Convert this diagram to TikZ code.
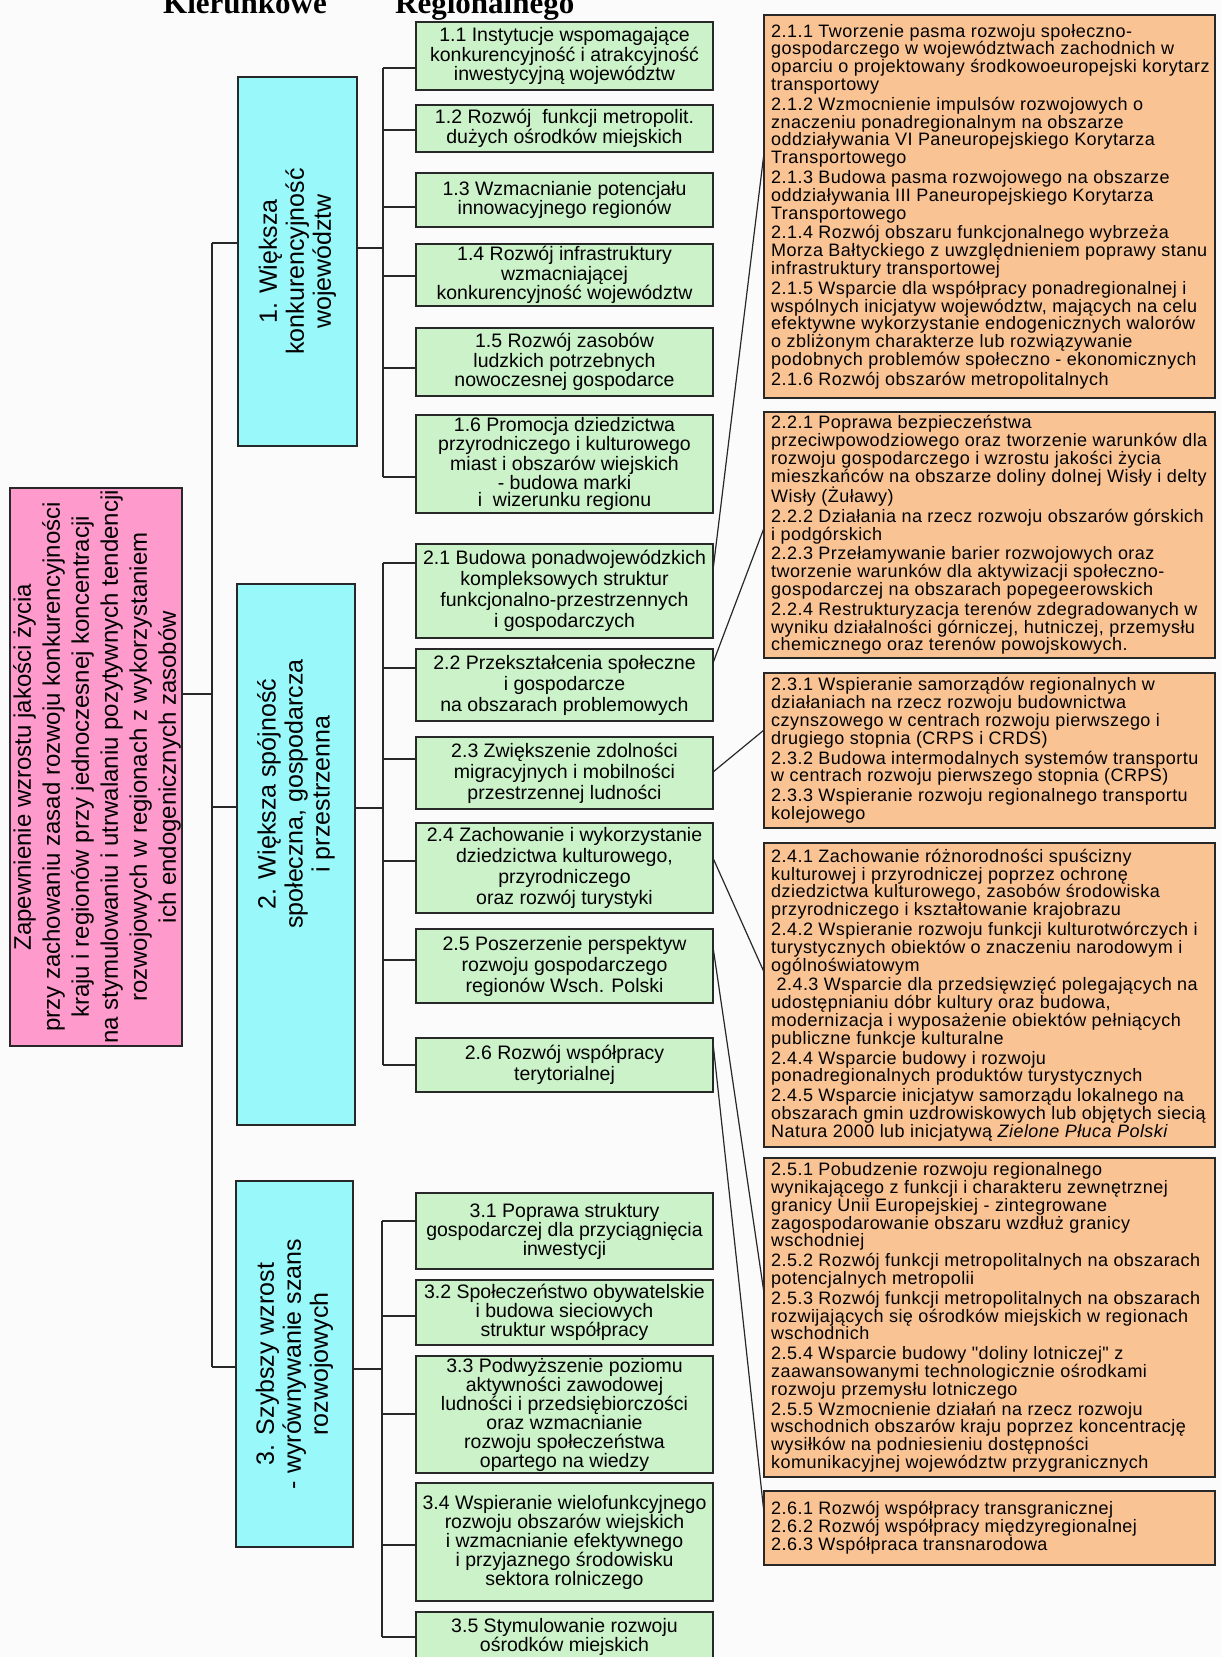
\documentclass[tikz,border=0pt]{standalone}
\usepackage{fontspec}
\setmainfont{Liberation Sans}
\newfontfamily\hdrfont{Liberation Serif}
\newfontfamily\ofam[LetterSpace=2.5]{Liberation Sans}
\definecolor{gfill}{RGB}{204,242,202}
\definecolor{bfill}{RGB}{152,248,250}
\definecolor{pfill}{RGB}{255,154,204}
\definecolor{ofill}{RGB}{250,195,148}
\definecolor{bord}{RGB}{40,40,40}
\definecolor{bg}{RGB}{251,251,251}
\newcommand\gfA{\fontsize{19.5}{17.5}\selectfont}
\newcommand\gfB{\fontsize{19.5}{21}\selectfont}
\newcommand\gfC{\fontsize{19.5}{19}\selectfont}
\newcommand\ofnt{\ofam\fontsize{18}{17.8}\selectfont}
\newcommand\bfnt{\fontsize{25}{27}\selectfont}
\newcommand\pfnt{\fontsize{24}{29}\selectfont}
\begin{document}
\begin{tikzpicture}[x=1pt,y=-1pt,
  box/.style={draw=bord, line width=1.8pt, inner sep=0pt, outer sep=0pt},
  gbox/.style={box, fill=gfill, minimum width=297pt, align=center},
  obox/.style={box, fill=ofill, minimum width=451pt},
  otext/.style={anchor=west, align=left, inner sep=0pt, font=\ofnt},
  bbox/.style={box, fill=bfill},
  pbox/.style={box, fill=pfill},
  rtext/.style={rotate=90, align=center, inner sep=0pt},
  conn/.style={line width=1.5pt, draw=bord},
  hdr/.style={anchor=base west, inner sep=0pt, font=\hdrfont\bfseries\fontsize{31}{31}\selectfont}
]
\fill[bg] (0,0) rectangle (1221,1657);
\useasboundingbox (0,0) rectangle (1221,1657);

% header (cut at top)
\node[hdr] (hk) at (163,13) {Kierunkowe};
\node[hdr] (hr) at (395,13) {Regionalnego};

% pink root
\node[pbox, minimum width=172pt, minimum height=558pt] (pink) at (96,767) {};
\node[rtext, font=\pfnt] (pinkt) at (97,767) {Zapewnienie wzrostu jakości życia\\przy zachowaniu zasad rozwoju konkurencyjności\\kraju i regionów przy jednoczesnej koncentracji\\na stymulowaniu i utrwalaniu pozytywnych tendencji\\rozwojowych w regionach z wykorzystaniem\\ich endogenicznych zasobów};

% blue
\node[bbox, minimum width=119pt, minimum height=369pt] (b1) at (297.5,261.5) {};
\node[rtext, font=\bfnt] (b1t) at (b1.center) {1. Większa\\konkurencyjność\\województw};
\node[bbox, minimum width=118pt, minimum height=541pt] (b2) at (296,854.5) {};
\node[rtext, font=\bfnt] (b2t) at (296,794) {2. Większa spójność\\społeczna, gospodarcza\\i przestrzenna};
\node[bbox, minimum width=117pt, minimum height=366pt] (b3) at (294.5,1364) {};
\node[rtext, font=\bfnt] (b3t) at (b3.center) {3. Szybszy wzrost\\- wyrównywanie szans\\rozwojowych};

% green group 1
\node[gbox, font=\gfA, minimum height=68pt] (g11) at (564.5,56) {1.1 Instytucje wspomagające\\konkurencyjność i atrakcyjność\\inwestycyjną województw};
\node[gbox, font=\gfA, minimum height=47pt] (g12) at (564.5,128.5) {1.2 Rozwój\ \ funkcji metropolit.\\dużych ośrodków miejskich};
\node[gbox, font=\gfA, minimum height=54pt] (g13) at (564.5,200) {1.3 Wzmacnianie potencjału\\innowacyjnego regionów};
\node[gbox, font=\gfA, minimum height=62pt] (g14) at (564.5,275) {1.4 Rozwój infrastruktury\\wzmacniającej\\konkurencyjność województw};
\node[gbox, font=\gfA, minimum height=68pt] (g15) at (564.5,362) {1.5 Rozwój zasobów\\ludzkich potrzebnych\\nowoczesnej gospodarce};
\node[gbox, font=\gfA, minimum height=98pt] (g16) at (564.5,464) {1.6 Promocja dziedzictwa\\przyrodniczego i kulturowego\\miast i obszarów wiejskich\\- budowa marki\\i\ \ wizerunku regionu};

% green group 2
\node[gbox, font=\gfB, minimum height=94pt] (g21) at (564.5,591) {2.1 Budowa ponadwojewódzkich\\kompleksowych struktur\\funkcjonalno-przestrzennych\\i gospodarczych};
\node[gbox, font=\gfB, minimum height=72pt] (g22) at (564.5,685) {2.2 Przekształcenia społeczne\\i gospodarcze\\na obszarach problemowych};
\node[gbox, font=\gfB, minimum height=72pt] (g23) at (564.5,773) {2.3 Zwiększenie zdolności\\migracyjnych i mobilności\\przestrzennej ludności};
\node[gbox, font=\gfB, minimum height=90pt] (g24) at (564.5,868) {2.4 Zachowanie i wykorzystanie\\dziedzictwa kulturowego,\\przyrodniczego\\oraz rozwój turystyki};
\node[gbox, font=\gfB, minimum height=74pt] (g25) at (564.5,966) {2.5 Poszerzenie perspektyw\\rozwoju gospodarczego\\regionów Wsch. Polski};
\node[gbox, font=\gfB, minimum height=54pt] (g26) at (564.5,1065) {2.6 Rozwój współpracy\\terytorialnej};

% green group 3
\node[gbox, font=\gfC, minimum height=76pt] (g31) at (564.5,1231) {3.1 Poprawa struktury\\gospodarczej dla przyciągnięcia\\inwestycji};
\node[gbox, font=\gfC, minimum height=65pt] (g32) at (564.5,1312.5) {3.2 Społeczeństwo obywatelskie\\i budowa sieciowych\\struktur współpracy};
\node[gbox, font=\gfC, minimum height=117pt] (g33) at (564.5,1414.5) {3.3 Podwyższenie poziomu\\aktywności zawodowej\\ludności i przedsiębiorczości\\oraz wzmacnianie\\rozwoju społeczeństwa\\opartego na wiedzy};
\node[gbox, font=\gfC, minimum height=118pt] (g34) at (564.5,1542) {3.4 Wspieranie wielofunkcyjnego\\rozwoju obszarów wiejskich\\i wzmacnianie efektywnego\\i przyjaznego środowisku\\sektora rolniczego};
\node[gbox, font=\gfC, minimum height=50pt] (g35) at (564.5,1637) {3.5 Stymulowanie rozwoju\\ośrodków miejskich};

% orange boxes
\node[obox, minimum height=383pt] (o21) at (989.5,206.5) {};
\node[obox, minimum height=246pt] (o22) at (989.5,535) {};
\node[obox, minimum height=155pt] (o23) at (989.5,750.5) {};
\node[obox, minimum height=304pt] (o24) at (989.5,995) {};
\node[obox, minimum height=319pt] (o25) at (989.5,1317.5) {};
\node[obox, minimum height=74pt] (o26) at (989.5,1528) {};

% orange texts
\node[otext] (o21t) at (771,206.5) {2.1.1 Tworzenie pasma rozwoju społeczno-\\gospodarczego w województwach zachodnich w\\oparciu o projektowany środkowoeuropejski korytarz\\transportowy\\[2pt]
2.1.2 Wzmocnienie impulsów rozwojowych o\\znaczeniu ponadregionalnym na obszarze\\oddziaływania VI Paneuropejskiego Korytarza\\Transportowego\\[2pt]
2.1.3 Budowa pasma rozwojowego na obszarze\\oddziaływania III Paneuropejskiego Korytarza\\Transportowego\\[2pt]
2.1.4 Rozwój obszaru funkcjonalnego wybrzeża\\Morza Bałtyckiego z uwzględnieniem poprawy stanu\\infrastruktury transportowej\\[2pt]
2.1.5 Wsparcie dla współpracy ponadregionalnej i\\wspólnych inicjatyw województw, mających na celu\\efektywne wykorzystanie endogenicznych walorów\\o zbliżonym charakterze lub rozwiązywanie\\podobnych problemów społeczno - ekonomicznych\\[2pt]
2.1.6 Rozwój obszarów metropolitalnych};
\node[otext] (o22t) at (771,535) {2.2.1 Poprawa bezpieczeństwa\\przeciwpowodziowego oraz tworzenie warunków dla\\rozwoju gospodarczego i wzrostu jakości życia\\mieszkańców na obszarze doliny dolnej Wisły i delty\\Wisły (Żuławy)\\[2pt]
2.2.2 Działania na rzecz rozwoju obszarów górskich\\i podgórskich\\[2pt]
2.2.3 Przełamywanie barier rozwojowych oraz\\tworzenie warunków dla aktywizacji społeczno-\\gospodarczej na obszarach popegeerowskich\\[2pt]
2.2.4 Restrukturyzacja terenów zdegradowanych w\\wyniku działalności górniczej, hutniczej, przemysłu\\chemicznego oraz terenów powojskowych.};
\node[otext] (o23t) at (771,750.5) {2.3.1 Wspieranie samorządów regionalnych w\\działaniach na rzecz rozwoju budownictwa\\czynszowego w centrach rozwoju pierwszego i\\drugiego stopnia (CRPS i CRDS)\\[2pt]
2.3.2 Budowa intermodalnych systemów transportu\\w centrach rozwoju pierwszego stopnia (CRPS)\\[2pt]
2.3.3 Wspieranie rozwoju regionalnego transportu\\kolejowego};
\node[otext] (o24t) at (771,995) {2.4.1 Zachowanie różnorodności spuścizny\\kulturowej i przyrodniczej poprzez ochronę\\dziedzictwa kulturowego, zasobów środowiska\\przyrodniczego i kształtowanie krajobrazu\\[2pt]
2.4.2 Wspieranie rozwoju funkcji kulturotwórczych i\\turystycznych obiektów o znaczeniu narodowym i\\ogólnoświatowym\\[2pt]
\ 2.4.3 Wsparcie dla przedsięwzięć polegających na\\udostępnianiu dóbr kultury oraz budowa,\\modernizacja i wyposażenie obiektów pełniących\\publiczne funkcje kulturalne\\[2pt]
2.4.4 Wsparcie budowy i rozwoju\\ponadregionalnych produktów turystycznych\\[2pt]
2.4.5 Wsparcie inicjatyw samorządu lokalnego na\\obszarach gmin uzdrowiskowych lub objętych siecią\\Natura 2000 lub inicjatywą \textit{Zielone Płuca Polski}};
\node[otext] (o25t) at (771,1317.5) {2.5.1 Pobudzenie rozwoju regionalnego\\wynikającego z funkcji i charakteru zewnętrznej\\granicy Unii Europejskiej - zintegrowane\\zagospodarowanie obszaru wzdłuż granicy\\wschodniej\\[2pt]
2.5.2 Rozwój funkcji metropolitalnych na obszarach\\potencjalnych metropolii\\[2pt]
2.5.3 Rozwój funkcji metropolitalnych na obszarach\\rozwijających się ośrodków miejskich w regionach\\wschodnich\\[2pt]
2.5.4 Wsparcie budowy "doliny lotniczej" z\\zaawansowanymi technologicznie ośrodkami\\rozwoju przemysłu lotniczego\\[2pt]
2.5.5 Wzmocnienie działań na rzecz rozwoju\\wschodnich obszarów kraju poprzez koncentrację\\wysiłków na podniesieniu dostępności\\komunikacyjnej województw przygranicznych};
\node[otext] (o26t) at (771,1528) {2.6.1 Rozwój współpracy transgranicznej\\2.6.2 Rozwój współpracy międzyregionalnej\\2.6.3 Współpraca transnarodowa};

% main trunk
\coordinate (tA) at (212,243);
\coordinate (tP) at (212,694);
\coordinate (tB) at (212,807);
\coordinate (tC) at (212,1367);
\draw[conn] (tA) -- (tC);
\draw[conn] (pink.east |- tP) -- (tP);
\draw[conn] (tA) -- (b1.west |- tA);
\draw[conn] (tB) -- (b2.west |- tB);
\draw[conn] (tC) -- (b3.west |- tC);

% sub-trunk 1
\coordinate (sA) at (383,248);
\coordinate (k11) at (383,68);
\coordinate (k12) at (383,130);
\coordinate (k13) at (383,207);
\coordinate (k14) at (383,276);
\coordinate (k15) at (383,368);
\coordinate (k16) at (383,477);
\draw[conn] (b1.east |- sA) -- (sA);
\draw[conn] (k11) -- (k16);
\foreach \i in {11,12,13,14,15,16} {\draw[conn] (k\i) -- (g\i.west |- k\i);}

% sub-trunk 2
\coordinate (sB) at (383,808);
\coordinate (k21) at (383,563);
\coordinate (k22) at (383,668);
\coordinate (k23) at (383,759);
\coordinate (k24) at (383,861);
\coordinate (k25) at (383,960);
\coordinate (k26) at (383,1065);
\draw[conn] (b2.east |- sB) -- (sB);
\draw[conn] (k21) -- (k26);
\foreach \i in {21,22,23,24,25,26} {\draw[conn] (k\i) -- (g\i.west |- k\i);}

% sub-trunk 3
\coordinate (sC) at (382,1369);
\coordinate (k31) at (382,1221);
\coordinate (k32) at (382,1316);
\coordinate (k33) at (382,1414);
\coordinate (k34) at (382,1545);
\coordinate (k35) at (382,1637);
\draw[conn] (b3.east |- sC) -- (sC);
\draw[conn] (k31) -- (k35);
\foreach \i in {31,32,33,34,35} {\draw[conn] (k\i) -- (g\i.west |- k\i);}

% green -> orange
\coordinate (e21) at (0,570);  \coordinate (f21) at (0,153);
\coordinate (e22) at (0,663);  \coordinate (f22) at (0,528);
\coordinate (e23) at (0,772);  \coordinate (f23) at (0,730);
\coordinate (e24) at (0,858);  \coordinate (f24) at (0,972);
\coordinate (e25) at (0,947);  \coordinate (f25) at (0,1293);
\coordinate (e26) at (0,1043); \coordinate (f26) at (0,1513);
\foreach \i in {21,22,23,24,25,26} {\draw[conn, line width=1.2pt] (g\i.east |- e\i) -- (o\i.west |- f\i);}
\end{tikzpicture}
\end{document}
